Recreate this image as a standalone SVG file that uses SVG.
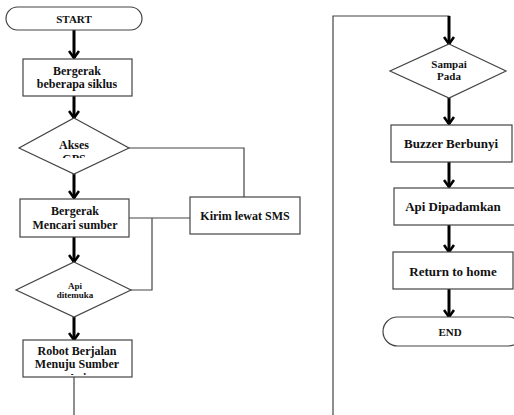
<svg xmlns="http://www.w3.org/2000/svg" width="514" height="415" viewBox="0 0 514 415">
<style>
.box{fill:#fff;stroke:#444;stroke-width:1.2}
.t{font-family:"Liberation Serif","DejaVu Serif",serif;font-weight:bold;font-size:12px;fill:#111;text-anchor:middle}
.s{font-size:9px}
.r{font-size:13px}
.arr{stroke:#000;stroke-width:3;fill:none;marker-end:url(#ah)}
.ln{stroke:#444;stroke-width:1.2;fill:none}
</style>
<defs>
<marker id="ah" viewBox="0 0 10 12" markerWidth="10" markerHeight="12" refX="8" refY="6" orient="auto" markerUnits="userSpaceOnUse">
<path d="M1,1 L8,6 L1,11" fill="none" stroke="#000" stroke-width="2.6"/>
</marker>
<clipPath id="cgps"><rect x="40" y="153" width="70" height="5"/></clipPath>
<clipPath id="crob"><rect x="24" y="341" width="107" height="34"/></clipPath>
</defs>
<rect width="514" height="415" fill="#fff"/>
<g id="connectors">
<line class="arr" x1="74" y1="29" x2="74" y2="58"/>
<line class="arr" x1="74" y1="96" x2="74" y2="118"/>
<line class="arr" x1="74" y1="174" x2="74" y2="198"/>
<line class="arr" x1="74" y1="237" x2="74" y2="262"/>
<line class="arr" x1="74" y1="317" x2="74" y2="340"/>
<polyline class="ln" points="129,148 244,148 244,197"/>
<line class="ln" x1="129" y1="218" x2="190" y2="218"/>
<polyline class="ln" points="152,218 152,290 131,290"/>
<line class="ln" x1="74" y1="377" x2="74" y2="415"/>
<polyline class="ln" points="333,415 333,16 449,16 449,20"/>
<line class="arr" x1="449" y1="16" x2="449" y2="44"/>
<line class="arr" x1="449" y1="98" x2="449" y2="124"/>
<line class="arr" x1="449" y1="162" x2="449" y2="187"/>
<line class="arr" x1="449" y1="225" x2="449" y2="252"/>
<line class="arr" x1="449" y1="289" x2="449" y2="317"/>
</g>
<g id="start">
<rect class="box" x="6" y="7" width="136" height="23" rx="11.5"/>
<text class="t" x="74" y="23" style="font-size:11px">START</text>
</g>
<g id="bergerak1">
<rect class="box" x="23" y="59" width="109" height="37"/>
<text class="t" x="77" y="75">Bergerak</text>
<text class="t" x="77" y="88">beberapa siklus</text>
</g>
<g id="akses">
<polygon class="box" points="74,118 129,148 74,174 19,148"/>
<text class="t" x="74" y="149">Akses</text>
<text class="t" x="74" y="163" clip-path="url(#cgps)">GPS</text>
</g>
<g id="bergerak2">
<rect class="box" x="20" y="199" width="109" height="38"/>
<text class="t" x="75" y="215">Bergerak</text>
<text class="t" x="75" y="229">Mencari sumber</text>
</g>
<g id="kirim">
<rect class="box" x="190" y="197" width="110" height="37"/>
<text class="t" x="245" y="220">Kirim lewat SMS</text>
</g>
<g id="api">
<polygon class="box" points="74,262 131,290 74,317 16,290"/>
<text class="t s" x="75" y="289">Api</text>
<text class="t s" x="75" y="298">ditemuka</text>
</g>
<g id="robot">
<rect class="box" x="23" y="340" width="109" height="37"/>
<text class="t" x="77" y="355">Robot Berjalan</text>
<text class="t" x="77" y="368">Menuju Sumber</text>
<text class="t" x="77" y="382" clip-path="url(#crob)">Api</text>
</g>
<g id="sampai">
<polygon class="box" points="449,44 506,71 449,98 390,71"/>
<text class="t" x="449" y="68" style="font-size:11px">Sampai</text>
<text class="t" x="449" y="80" style="font-size:11px">Pada</text>
</g>
<g id="buzzer">
<rect class="box" x="391" y="125" width="121" height="37"/>
<text class="t r" x="451" y="148">Buzzer Berbunyi</text>
</g>
<g id="padam">
<rect class="box" x="394" y="188" width="122" height="37"/>
<text class="t r" x="453" y="211">Api Dipadamkan</text>
</g>
<g id="return">
<rect class="box" x="393" y="252" width="120" height="37"/>
<text class="t r" x="453" y="276">Return to home</text>
</g>
<g id="end">
<rect class="box" x="383" y="317" width="140" height="29" rx="14.5"/>
<text class="t" x="450" y="336" style="font-size:11px">END</text>
</g>
</svg>
